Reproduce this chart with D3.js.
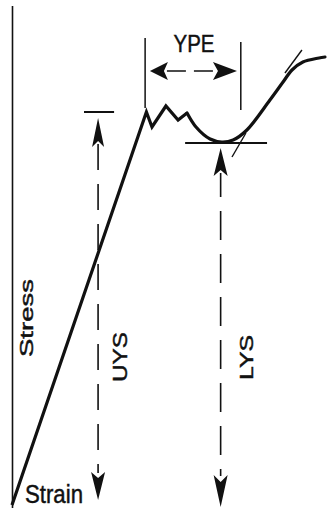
<!DOCTYPE html>
<html>
<head>
<meta charset="utf-8">
<script src="https://cdn.jsdelivr.net/npm/d3@7/dist/d3.min.js"></script>
<style>
  html, body { margin: 0; padding: 0; background: #fff; }
  svg { display: block; }
  text { font-family: "Liberation Sans", Arial, Helvetica, sans-serif; fill: #111; stroke: #111; stroke-width: 0.45px; }
</style>
</head>
<body>
<svg id="chart" width="331" height="508"></svg>
<script>
// Stress–strain curve with a yield point phenomenon (schematic units)
const strain = [0, 4.20, 4.375, 4.81, 5.19, 5.47, 5.75, 6.19, 6.56, 6.91, 7.34, 8.06, 8.47, 8.75, 9.09, 9.78];
const stress = [0, 393, 378, 399, 385, 392, 378, 366, 363, 365, 375, 405, 423, 435, 443, 448];
// index where the serrated yield drop ends and the smooth hardening curve begins
const smoothFrom = 5;

// Yield levels
const upperYield = 393;   // UYS
const lowerYield = 362;   // LYS
// Yield point elongation span (strain)
const ypeStart = 4.16;
const ypeEnd = 7.15;
// Tangent guide segments on the work-hardening branch
const tangentLow = [[6.875, 348], [7.31, 372]];
const tangentHigh = [[8.53, 432], [9.06, 455]];

const labels = { stress: "Stress", strain: "Strain", uys: "UYS", lys: "LYS", ype: "YPE" };

const svg = d3.select("#chart");
const ink = "#111";

const x = d3.scaleLinear().domain([0, 10]).range([12, 332]);
const y = d3.scaleLinear().domain([0, 500]).range([505, 5]);

// Stress axis
svg.append("line")
  .attr("x1", x(0) + 0.5).attr("x2", x(0) + 0.5)
  .attr("y1", y(499)).attr("y2", 508)
  .attr("stroke", ink).attr("stroke-width", 1.6);

const pts = strain.map((s, i) => [s, stress[i]]);

// Elastic line and serrated yield drop
svg.append("path")
  .datum(pts.slice(0, smoothFrom + 1))
  .attr("d", d3.line().x(d => x(d[0])).y(d => y(d[1])))
  .attr("fill", "none").attr("stroke", ink)
  .attr("stroke-width", 3.2).attr("stroke-linejoin", "miter");

// Lüders plateau and work-hardening branch
svg.append("path")
  .datum(pts.slice(smoothFrom))
  .attr("d", d3.line().x(d => x(d[0])).y(d => y(d[1])).curve(d3.curveCatmullRom.alpha(0.5)))
  .attr("fill", "none").attr("stroke", ink)
  .attr("stroke-width", 3.2).attr("stroke-linecap", "round");

// Tangent guides
[tangentLow, tangentHigh].forEach(seg => {
  svg.append("line")
    .attr("x1", x(seg[0][0])).attr("y1", y(seg[0][1]))
    .attr("x2", x(seg[1][0])).attr("y2", y(seg[1][1]))
    .attr("stroke", ink).attr("stroke-width", 1.4);
});

// UYS and LYS level markers
svg.append("line")
  .attr("x1", x(2.25)).attr("x2", x(3.19))
  .attr("y1", y(upperYield)).attr("y2", y(upperYield))
  .attr("stroke", ink).attr("stroke-width", 2);
svg.append("line")
  .attr("x1", x(5.41)).attr("x2", x(7.97))
  .attr("y1", y(lowerYield)).attr("y2", y(lowerYield))
  .attr("stroke", ink).attr("stroke-width", 2);

// Spear-shaped arrowhead: tip at (tx, ty), pointing along angle (deg), length L, half width w
function arrowHead(tx, ty, dir, L, w, notch) {
  const p = d3.path();
  p.moveTo(0, 0);
  p.lineTo(-w, L);
  p.lineTo(0, L - notch);
  p.lineTo(w, L);
  p.closePath();
  svg.append("path")
    .attr("d", p.toString())
    .attr("transform", `translate(${tx},${ty}) rotate(${dir})`)
    .attr("fill", ink);
}

// UYS dimension
const uysX = x(2.69);
arrowHead(uysX, y(upperYield) + 6, 0, 29, 6, 6);
arrowHead(uysX, y(5), 180, 28, 7, 6);
svg.append("line")
  .attr("x1", uysX).attr("x2", uysX)
  .attr("y1", y(upperYield) + 32).attr("y2", y(5) - 27)
  .attr("stroke", ink).attr("stroke-width", 1.6)
  .attr("stroke-dasharray", "26,14");

// LYS dimension
const lysX = x(6.52);
arrowHead(lysX, y(lowerYield) + 5, 0, 28, 7, 6);
arrowHead(lysX, y(-2), 180, 32, 7, 7);
svg.append("line")
  .attr("x1", lysX).attr("x2", lysX)
  .attr("y1", y(lowerYield) + 30).attr("y2", y(-2) - 31)
  .attr("stroke", ink).attr("stroke-width", 1.6)
  .attr("stroke-dasharray", "29,14").attr("stroke-dashoffset", 5);

// YPE extension lines
svg.append("line")
  .attr("x1", x(ypeStart)).attr("x2", x(ypeStart))
  .attr("y1", y(467)).attr("y2", y(397))
  .attr("stroke", ink).attr("stroke-width", 1.5);
svg.append("line")
  .attr("x1", x(ypeEnd)).attr("x2", x(ypeEnd))
  .attr("y1", y(463)).attr("y2", y(395))
  .attr("stroke", ink).attr("stroke-width", 1.5);

// YPE dimension arrow
const ypeY = y(434);
arrowHead(x(4.31), ypeY, -90, 18, 9, 4);
arrowHead(x(7.03), ypeY, 90, 24, 9, 5);
svg.append("line")
  .attr("x1", x(4.31) + 17).attr("x2", x(7.03) - 23)
  .attr("y1", ypeY).attr("y2", ypeY)
  .attr("stroke", ink).attr("stroke-width", 1.6)
  .attr("stroke-dasharray", "19,8");

// Labels
svg.append("text")
  .attr("x", 194).attr("y", 52)
  .attr("text-anchor", "middle")
  .attr("font-size", 23)
  .attr("textLength", 41).attr("lengthAdjust", "spacingAndGlyphs")
  .text(labels.ype);

svg.append("text")
  .attr("x", 25).attr("y", 502.5)
  .attr("font-size", 25)
  .attr("textLength", 58).attr("lengthAdjust", "spacingAndGlyphs")
  .text(labels.strain);

svg.append("text")
  .attr("transform", "translate(33,318) rotate(-90)")
  .attr("text-anchor", "middle")
  .attr("font-size", 18)
  .attr("textLength", 78).attr("lengthAdjust", "spacingAndGlyphs")
  .text(labels.stress);

svg.append("text")
  .attr("transform", `translate(126.5,357) rotate(-90)`)
  .attr("text-anchor", "middle")
  .attr("font-size", 21)
  .attr("textLength", 50).attr("lengthAdjust", "spacingAndGlyphs")
  .text(labels.uys);

svg.append("text")
  .attr("transform", `translate(253,357.5) rotate(-90)`)
  .attr("text-anchor", "middle")
  .attr("font-size", 18.5)
  .attr("textLength", 45).attr("lengthAdjust", "spacingAndGlyphs")
  .text(labels.lys);
</script>
</body>
</html>
